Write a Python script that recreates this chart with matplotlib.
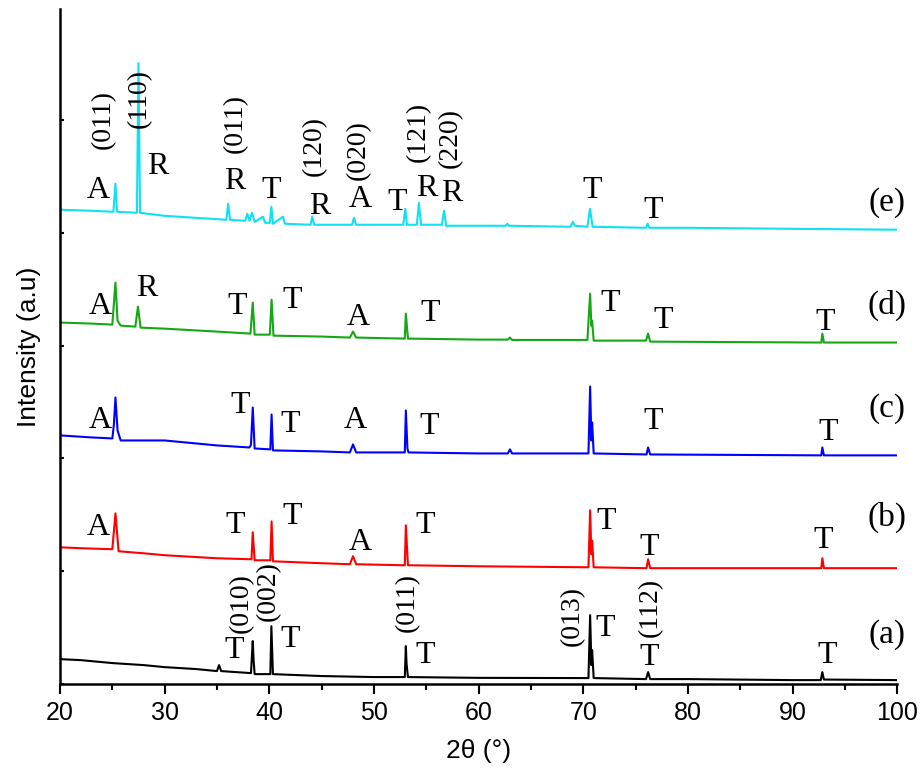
import numpy as np
import matplotlib.pyplot as plt
from matplotlib.ticker import MultipleLocator

# XRD patterns (a)-(e), stacked in arbitrary units
tt_a = [20, 22, 25, 28, 30, 33, 35.0, 35.2, 35.4, 38.25, 38.42, 38.5, 38.6, 40.1, 40.2, 40.35,
        45, 50, 52.95, 53.05, 53.12, 53.25, 60, 70.5, 70.66, 70.78, 70.85, 71.0,
        76.0, 76.2, 76.4, 80, 90, 92.7, 92.85, 93.0, 100]
I_a = [0.221, 0.212, 0.186, 0.168, 0.150, 0.133, 0.115, 0.168, 0.115, 0.097, 0.381, 0.212, 0.088,
       0.088, 0.513, 0.088, 0.071, 0.062, 0.062, 0.336, 0.177, 0.062, 0.055, 0.053,
       0.611, 0.168, 0.301, 0.053, 0.044, 0.106, 0.044, 0.044, 0.035, 0.035, 0.106, 0.040, 0.035]

tt_b = [20, 22, 25.0, 25.3, 25.6, 28, 30, 35, 38.3, 38.42, 38.6, 40.1, 40.22, 40.35, 45,
        47.7, 48.0, 48.3, 52.95, 53.05, 53.25, 60, 70.5, 70.66, 70.78, 70.85, 71.0,
        76.05, 76.2, 76.4, 92.75, 92.85, 93.0, 100]
I_b = [1.212, 1.204, 1.195, 1.513, 1.177, 1.159, 1.142, 1.115, 1.106, 1.345, 1.097, 1.097, 1.442,
       1.088, 1.071, 1.062, 1.133, 1.062, 1.053, 1.407, 1.053, 1.044, 1.035, 1.540, 1.150, 1.270,
       1.035, 1.027, 1.106, 1.027, 1.027, 1.115, 1.027, 1.027]

tt_c = [20, 23, 25.0, 25.15, 25.3, 25.5, 25.8, 30, 35, 38.1, 38.25, 38.42, 38.6, 40.1, 40.22,
        40.35, 45, 47.7, 48.0, 48.3, 52.95, 53.05, 53.2, 53.3, 60, 62.8, 63.0, 63.2, 70.5, 70.66,
        70.78, 70.85, 71.0, 76.05, 76.2, 76.4, 92.75, 92.85, 93.0, 100]
I_c = [2.204, 2.186, 2.177, 2.300, 2.540, 2.248, 2.159, 2.159, 2.115, 2.097, 2.120, 2.451, 2.088,
       2.080, 2.389, 2.071, 2.062, 2.053, 2.124, 2.053, 2.053, 2.425, 2.088, 2.053, 2.044, 2.044,
       2.080, 2.044, 2.044, 2.637, 2.159, 2.319, 2.044, 2.035, 2.097, 2.035, 2.027, 2.097, 2.027,
       2.027]

tt_d = [20, 23, 25.0, 25.3, 25.5, 25.8, 27.2, 27.45, 27.7, 30, 35, 38.2, 38.42, 38.6, 40.05,
        40.22, 40.4, 45, 47.7, 48.0, 48.3, 52.95, 53.05, 53.25, 60, 62.8, 63.0, 63.2, 70.4, 70.66,
        70.78, 70.85, 71.0, 76.0, 76.2, 76.4, 92.75, 92.85, 93.0, 100]
I_d = [3.204, 3.195, 3.186, 3.558, 3.220, 3.177, 3.168, 3.345, 3.159, 3.150, 3.124, 3.106, 3.381,
       3.097, 3.097, 3.407, 3.088, 3.080, 3.071, 3.124, 3.071, 3.062, 3.283, 3.062, 3.053, 3.053,
       3.071, 3.050, 3.050, 3.460, 3.177, 3.221, 3.044, 3.044, 3.106, 3.035, 3.027, 3.106, 3.027,
       3.027]

tt_e = [20, 23, 25.1, 25.3, 25.45, 27.35, 27.5, 27.65, 30, 35.9, 36.07, 36.25, 37.7, 37.9, 38.1,
        38.35, 38.6, 39.4, 39.6, 40.05, 40.2, 40.35, 41.3, 41.5, 43.95, 44.1, 44.3, 47.9, 48.1,
        48.3, 52.8, 53.0, 53.15, 54.1, 54.3, 54.5, 56.5, 56.7, 56.9, 60, 62.6, 62.75, 62.9,
        68.8, 69.0, 69.2, 70.4, 70.65, 70.9, 76.0, 76.15, 76.3, 80, 90, 100]
I_e = [4.204, 4.195, 4.186, 4.434, 4.186, 4.177, 5.504, 4.177, 4.150, 4.115, 4.257, 4.115, 4.106,
       4.168, 4.106, 4.177, 4.097, 4.142, 4.088, 4.088, 4.230, 4.080, 4.142, 4.080, 4.071, 4.142,
       4.071, 4.071, 4.133, 4.071, 4.071, 4.212, 4.071, 4.071, 4.265, 4.071, 4.071, 4.195, 4.062,
       4.062, 4.062, 4.080, 4.062, 4.053, 4.097, 4.062, 4.053, 4.212, 4.053, 4.044, 4.080, 4.044,
       4.044, 4.035, 4.027]

patterns = [(tt_a, I_a, 'black'), (tt_b, I_b, '#ff0000'), (tt_c, I_c, '#0000ff'),
            (tt_d, I_d, '#14a814'), (tt_e, I_e, '#10e0f4')]

sample_names = ['(a)', '(b)', '(c)', '(d)', '(e)']

# phase marks: A anatase, R rutile, T titanium
phase_marks = [
    ('T', 36.6, 0.23), ('T', 42.0, 0.33), ('T', 54.9, 0.19), ('T', 72.1, 0.43), ('T', 76.3, 0.17), ('T', 93.3, 0.19),
    ('A', 23.7, 1.32), ('T', 36.7, 1.34), ('T', 42.2, 1.42), ('A', 48.7, 1.19), ('T', 54.9, 1.34), ('T', 72.2, 1.37),
    ('T', 76.3, 1.14), ('T', 92.9, 1.21),
    ('A', 23.9, 2.27), ('T', 37.2, 2.40), ('T', 42.0, 2.23), ('A', 48.2, 2.27), ('T', 55.3, 2.22), ('T', 76.7, 2.26),
    ('T', 93.4, 2.16),
    ('A', 23.9, 3.28), ('R', 28.3, 3.44), ('T', 36.9, 3.28), ('T', 42.2, 3.33), ('A', 48.5, 3.18), ('T', 55.4, 3.22),
    ('T', 72.6, 3.31), ('T', 77.6, 3.16), ('T', 93.1, 3.14),
    ('A', 23.7, 4.31), ('R', 29.3, 4.52), ('R', 36.7, 4.39), ('T', 40.2, 4.31), ('R', 44.85, 4.17), ('A', 48.7, 4.23),
    ('T', 52.2, 4.20), ('R', 55.0, 4.33), ('R', 57.4, 4.28), ('T', 70.85, 4.31), ('T', 76.7, 4.13),
]

hkl_marks = [
    ('(010)', 37.3, 0.72), ('(002)', 39.9, 0.82), ('(011)', 53.2, 0.72), ('(013)', 69.0, 0.60), ('(112)', 76.4, 0.68),
    ('(011)', 24.1, 5.00), ('(110)', 27.55, 5.19), ('(011)', 36.8, 4.97), ('(120)', 44.3, 4.77),
    ('(020)', 48.5, 4.73), ('(121)', 54.2, 4.89), ('(220)', 57.3, 4.84),
]
name_y = [0.44, 1.48, 2.44, 3.36, 4.27]

serif = ['Liberation Serif', 'DejaVu Serif']
plt.rcParams['font.family'] = ['Liberation Sans', 'DejaVu Sans']

fig = plt.figure(figsize=(9.23, 7.8), dpi=100)
ax = fig.add_axes([0.065, 0.123, 0.907, 0.865])

for tt, inten, col in patterns:
    ax.plot(tt, inten, color=col, lw=1.5)

for txt, x, y in phase_marks:
    ax.text(x, y, txt, fontsize=23, family=serif, ha='center', va='baseline')
for txt, x, y in hkl_marks:
    ax.text(x, y, txt, fontsize=20, family=serif, rotation=90, ha='center', va='center')
for txt, y in zip(sample_names, name_y):
    ax.text(99.0, y, txt, fontsize=24, family=serif, ha='center', va='center')

ax.set_xlim(20, 100)
ax.set_ylim(0, 5.98)
ax.xaxis.set_major_locator(MultipleLocator(10))
ax.xaxis.set_minor_locator(MultipleLocator(5))
ax.yaxis.set_major_locator(MultipleLocator(1))
ax.set_yticklabels([])
ax.tick_params(axis='x', which='major', direction='out', length=7, width=1.5, labelsize=18, pad=5)
ax.tick_params(axis='x', which='minor', direction='out', length=4, width=1.5)
ax.tick_params(axis='y', which='major', direction='in', length=3, width=1.5)
for side in ['top', 'right']:
    ax.spines[side].set_visible(False)
for side in ['left', 'bottom']:
    ax.spines[side].set_linewidth(1.8)

ax.set_xlabel('2θ (°)', fontsize=19, labelpad=10)
ax.set_ylabel('Intensity (a.u)', fontsize=19, labelpad=10)

fig.savefig('out.png', dpi=100)
